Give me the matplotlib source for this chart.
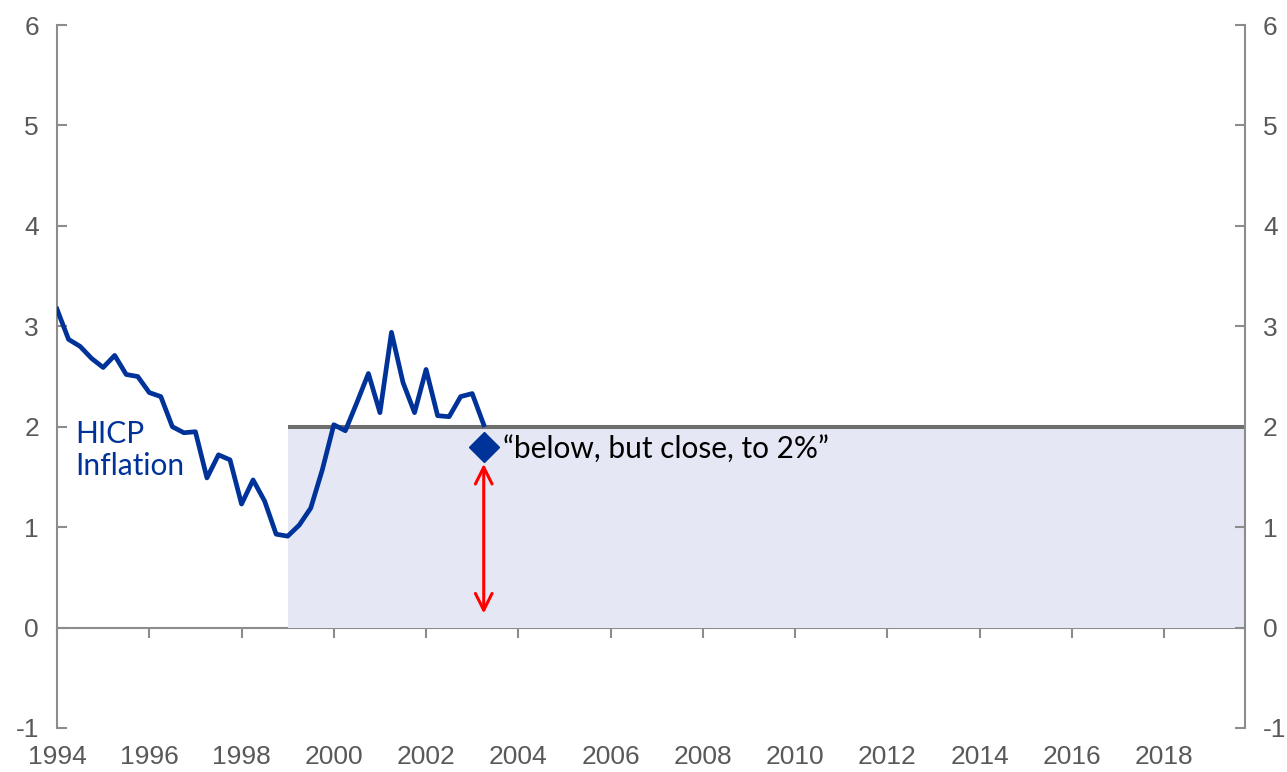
import matplotlib.pyplot as plt
import numpy as np

# quarterly HICP inflation, 1994Q1 - 2003Q2
hicp = [3.17, 2.87, 2.80, 2.68, 2.59, 2.71, 2.52, 2.50,
        2.34, 2.30, 2.00, 1.94, 1.95, 1.49, 1.72, 1.67,
        1.23, 1.47, 1.26, 0.93, 0.91, 1.02, 1.19, 1.57,
        2.02, 1.96, 2.24, 2.53, 2.14, 2.94, 2.44, 2.14,
        2.57, 2.11, 2.10, 2.30, 2.33, 2.02]
start_year = 1994.0
target = 2.0
target_start = 1999.0
target_end = 2019.75
point_year = 2003.25
point_value = 1.8
arrow_top = 1.63
arrow_bottom = 0.14
x_ticks = list(range(1994, 2019, 2))
y_ticks = list(range(-1, 7))

quarters = start_year + np.arange(len(hicp)) / 4

blue = '#003399'
grey = '#8c8c8c'
label_grey = '#595959'

plt.rcParams['font.family'] = 'Liberation Sans'
plt.rcParams['axes.unicode_minus'] = False

fig = plt.figure(figsize=(12.87, 7.72), dpi=100)
ax = fig.add_axes([0.0443, 0.057, 0.923, 0.9106])

# shaded target zone and 2% line
ax.fill_between([target_start, target_end], 0, target, color='#e5e8f4', lw=0, zorder=1)
ax.plot([target_start, target_end], [target, target], color='#6e6e6e', lw=2.9, zorder=2,
        solid_capstyle='butt')

# inflation line
ax.plot(quarters, hicp, color=blue, lw=3.4, zorder=3)

# diamond and red double arrow
ax.plot([point_year], [point_value], marker='D', ms=15.5, color=blue, zorder=4)
ax.annotate('', xy=(point_year, arrow_bottom), xytext=(point_year, arrow_top),
            arrowprops=dict(arrowstyle='<->', color='red', lw=2.2,
                            mutation_scale=30, shrinkA=0, shrinkB=0), zorder=4)

ax.text(2003.66, 1.78, '\u201cbelow, but close, to 2%\u201d', fontsize=21.5, family='Lato',
        va='center', ha='left', color='black')
ax.text(1994.4, 1.77, 'HICP\nInflation', fontsize=21.5, family='Lato', va='center',
        ha='left', color=blue, linespacing=1.2)

ax.set_xlim(start_year, target_end)
ax.set_ylim(-1, 6)

for s in ['top', 'bottom']:
    ax.spines[s].set_visible(False)
for s in ['left', 'right']:
    ax.spines[s].set_color(grey)
    ax.spines[s].set_linewidth(1.5)

ax.set_yticks(y_ticks)
ax.tick_params(axis='y', direction='in', length=7, width=1.5, color=grey,
               labelsize=19, labelcolor=label_grey, pad=13,
               left=True, right=True, labelleft=True, labelright=True)

ax.set_xticks(x_ticks)
ax.tick_params(axis='x', length=0, labelsize=19, labelcolor=label_grey, pad=12)

# zero line with downward ticks
sec = ax.secondary_xaxis(1 / 7)
sec.set_xticks(x_ticks)
sec.tick_params(axis='x', direction='out', length=7, width=1.5, color=grey, labelbottom=False)
sec.spines['bottom'].set_color(grey)
sec.spines['bottom'].set_linewidth(1.5)

fig.savefig('out.png', dpi=100)
